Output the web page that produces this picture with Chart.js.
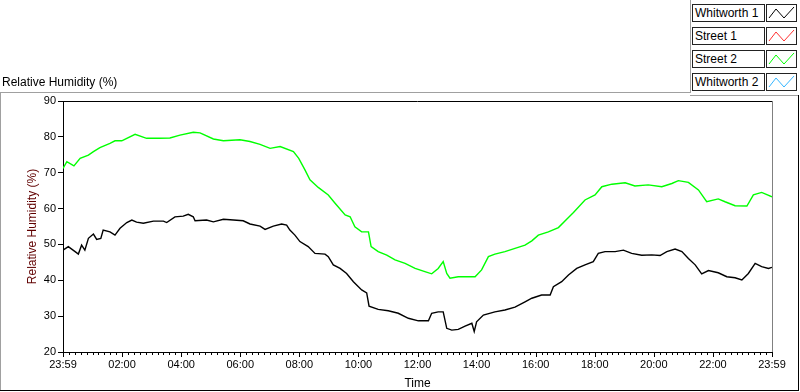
<!DOCTYPE html>
<html>
<head>
<meta charset="utf-8">
<script src="https://cdn.jsdelivr.net/npm/chart.js@4.4.1/dist/chart.umd.min.js"></script>
<style>
  body { margin: 0; background: #fff; }
  #wrap { position: relative; width: 800px; height: 392px; overflow: hidden; font-family: "Liberation Sans", Arial, sans-serif; font-size: 12px; color: #000; }
  #chart { position: absolute; left: 0; top: 0; }
  .line { position: absolute; }
  #caption { position: absolute; left: 2px; top: 75px; white-space: nowrap; }
  .name { position: absolute; left: 692px; width: 69px; height: 16px; border: 1px solid #222; background: #fff; line-height: 16px; padding-left: 2px; box-sizing: content-box; white-space: nowrap; }
  .icon { position: absolute; left: 766px; width: 29px; height: 16px; border: 1px solid #222; background: #fff; }
  .icon svg { position: absolute; left: 0; top: 0; }
</style>
</head>
<body>
<div id="wrap">
  <canvas id="chart" width="800" height="392"></canvas>
  <div id="caption">Relative Humidity (%)</div>
  <div class="line" style="left:0;top:92px;width:690px;height:1px;background:#a0a0a0"></div>
  <div class="line" style="left:690px;top:0;width:1px;height:93px;background:#a0a0a0"></div>
  <div class="line" style="left:690px;top:95px;width:109px;height:1px;background:#a0a0a0"></div>
  <div class="line" style="left:0;top:92px;width:1px;height:299px;background:#a0a0a0"></div>
  <div class="line" style="left:798px;top:95px;width:1px;height:296px;background:#000"></div>
  <div class="line" style="left:0;top:390px;width:799px;height:1px;background:#000"></div>
  <div id="legend"></div>
</div>
<script>
// series names + colours
var seriesNames = ["Whitworth 1", "Street 1", "Street 2", "Whitworth 2"];
var seriesColors = ["#000000", "#ff3030", "#00ff00", "#33b5ff"];

// x values are hours since 23:59
var whitworth1Hours = [0,0.18,0.41,0.52,0.63,0.74,0.86,1.03,1.14,1.28,1.36,1.59,1.76,1.93,2.16,2.33,2.49,2.72,3.06,3.40,3.51,3.79,4.07,4.24,4.41,4.47,4.86,5.09,5.43,5.77,6.10,6.33,6.67,6.84,7.12,7.40,7.57,7.68,7.85,8.02,8.30,8.53,8.87,8.98,9.15,9.38,9.60,9.83,10.11,10.28,10.36,10.67,11.01,11.35,11.69,12.03,12.37,12.48,12.70,12.87,12.99,13.16,13.38,13.61,13.84,13.92,14.00,14.23,14.62,14.96,15.30,15.64,15.87,16.20,16.49,16.60,16.88,17.11,17.39,17.67,17.95,18.12,18.35,18.69,18.97,19.25,19.59,19.93,20.21,20.44,20.72,20.95,21.17,21.40,21.62,21.85,22.18,22.47,22.75,22.98,23.20,23.43,23.65,23.88,24];
var whitworth1Values = [48.4,49.4,48.0,47.3,49.8,48.4,51.7,52.9,51.4,51.7,54.0,53.5,52.6,54.5,56.1,56.8,56.2,55.9,56.5,56.5,56.1,57.7,57.9,58.4,57.7,56.6,56.8,56.3,57.0,56.8,56.6,55.7,55.1,54.2,55.1,55.7,55.4,54.0,52.6,50.8,49.4,47.5,47.3,46.6,44.3,43.3,41.9,39.6,37.3,36.5,32.8,31.9,31.5,30.8,29.4,28.7,28.7,30.8,31.2,31.2,26.6,26.1,26.3,27.2,28.0,25.7,28.4,30.3,31.2,31.7,32.5,34.0,35.0,35.9,35.9,38.2,39.6,41.5,43.3,44.3,45.2,47.5,48.0,48.0,48.4,47.5,47.0,47.1,46.9,48.0,48.7,48.0,46.1,44.3,41.8,42.7,42.1,41.0,40.7,40.1,41.9,44.7,43.8,43.3,43.6];

var street2Hours = [0,0.13,0.37,0.58,0.86,1.03,1.25,1.59,1.76,1.99,2.16,2.44,2.83,3.23,3.62,3.96,4.41,4.64,5.09,5.43,5.99,6.33,6.67,7.01,7.35,7.80,7.98,8.19,8.36,8.64,8.98,9.21,9.55,9.72,9.88,10.11,10.34,10.43,10.67,10.96,11.24,11.58,11.92,12.25,12.48,12.70,12.87,12.99,13.10,13.38,13.72,13.95,14.17,14.40,14.62,14.96,15.30,15.64,15.87,16.09,16.43,16.77,17.11,17.28,17.67,18.01,18.24,18.58,19.03,19.36,19.81,20.27,20.61,20.83,21.17,21.51,21.79,22.18,22.41,22.75,23.15,23.37,23.65,24];
var street2Values = [71.2,73.1,71.9,74.0,74.9,75.9,77.0,78.2,78.9,78.9,79.6,80.7,79.6,79.6,79.7,80.5,81.3,81.1,79.4,78.9,79.2,78.7,77.9,76.8,77.3,75.9,74.0,70.8,68.0,65.9,63.8,61.5,58.2,57.7,54.9,53.5,53.5,49.4,48.0,47.0,45.7,44.7,43.3,42.4,41.8,43.3,45.2,41.9,40.6,41.0,41.0,41.0,42.9,46.6,47.3,48.0,48.9,49.8,51.0,52.6,53.5,54.7,57.5,58.9,62.4,63.8,66.1,66.8,67.2,66.3,66.6,66.1,67.0,67.8,67.3,65.2,61.9,62.7,61.9,60.8,60.7,63.8,64.5,63.3];

// Street 1 / Whitworth 2 have no data in this plot
var street1Values = [];
var whitworth2Values = [];

var xTickLabels = ["23:59","02:00","04:00","06:00","08:00","10:00","12:00","14:00","16:00","18:00","20:00","22:00","23:59"];
var yMin = 20, yMax = 90, yStep = 10;

function pts(xs, ys) {
  return ys.map(function (v, i) { return { x: xs[i], y: v }; });
}

// legend boxes
var legend = document.getElementById("legend");
seriesNames.forEach(function (n, i) {
  var top = 4 + i * 23;
  var name = document.createElement("div");
  name.className = "name";
  name.style.top = top + "px";
  name.textContent = n;
  legend.appendChild(name);
  var icon = document.createElement("div");
  icon.className = "icon";
  icon.style.top = top + "px";
  icon.innerHTML = '<svg width="29" height="16"><polyline points="2,13 9,4 17,13 27,2" fill="none" stroke="' + seriesColors[i] + '" stroke-width="1"/></svg>';
  legend.appendChild(icon);
});

// top + right plot border, plus x minor/major ticks
var frame = {
  id: "frame",
  afterDraw: function (chart) {
    var a = chart.chartArea, ctx = chart.ctx, xs = chart.scales.x;
    ctx.save();
    ctx.lineWidth = 1;
    ctx.strokeStyle = "#000";
    ctx.beginPath();
    ctx.moveTo(a.left, a.top + 0.5);
    ctx.lineTo(a.right, a.top + 0.5);
    ctx.stroke();
    ctx.strokeStyle = "#808080";
    ctx.beginPath();
    ctx.moveTo(a.right + 0.5, a.top);
    ctx.lineTo(a.right + 0.5, a.bottom);
    ctx.stroke();
    ctx.strokeStyle = "#000";
    ctx.beginPath();
    xs.ticks.forEach(function (t) {
      var px = Math.round(xs.getPixelForValue(t.value)) + 0.5;
      var major = Math.round(t.value * 10) % 20 === 0;
      ctx.moveTo(px, a.bottom);
      ctx.lineTo(px, a.bottom + (major ? 5 : 3));
    });
    ctx.stroke();
    ctx.restore();
  }
};

new Chart(document.getElementById("chart"), {
  type: "line",
  data: {
    datasets: [
      { label: seriesNames[0], data: pts(whitworth1Hours, whitworth1Values), borderColor: seriesColors[0] },
      { label: seriesNames[1], data: street1Values, borderColor: seriesColors[1] },
      { label: seriesNames[2], data: pts(street2Hours, street2Values), borderColor: seriesColors[2] },
      { label: seriesNames[3], data: whitworth2Values, borderColor: seriesColors[3] }
    ]
  },
  options: {
    responsive: false,
    animation: false,
    devicePixelRatio: 1,
    events: [],
    layout: { autoPadding: false, padding: { left: 0, top: 101, right: 28, bottom: 0 } },
    elements: {
      line: { borderWidth: 1.4, tension: 0, fill: false },
      point: { radius: 0 }
    },
    plugins: { legend: { display: false }, tooltip: { enabled: false } },
    scales: {
      x: {
        type: "linear",
        min: 0, max: 24,
        afterFit: function (s) { s.height = 40; },
        grid: { display: true, drawOnChartArea: false, drawTicks: false },
        border: { display: true, color: "#000" },
        ticks: {
          stepSize: 0.2,
          autoSkip: false,
          maxTicksLimit: 200,
          maxRotation: 0,
          padding: 6,
          color: "#000",
          font: { family: "Liberation Sans", size: 11 },
          callback: function (v) {
            var k = Math.round(v * 10);
            return k % 20 === 0 ? xTickLabels[k / 20] : "";
          }
        },
        title: {
          display: true, text: "Time", color: "#000",
          font: { family: "Liberation Sans", size: 12 },
          padding: { top: 0, bottom: 1 }
        }
      },
      y: {
        min: yMin, max: yMax,
        afterFit: function (s) { s.width = 63; },
        grid: { display: true, drawOnChartArea: false, drawTicks: true, tickLength: 5, tickColor: "#000" },
        border: { display: true, color: "#000" },
        ticks: {
          stepSize: yStep, padding: 2, color: "#000",
          font: { family: "Liberation Sans", size: 11 }
        },
        title: {
          display: true, text: "Relative Humidity (%)", color: "#600000",
          font: { family: "Liberation Sans", size: 12 },
          padding: { top: 25, bottom: 0 }
        }
      }
    }
  },
  plugins: [frame]
});
</script>
</body>
</html>
